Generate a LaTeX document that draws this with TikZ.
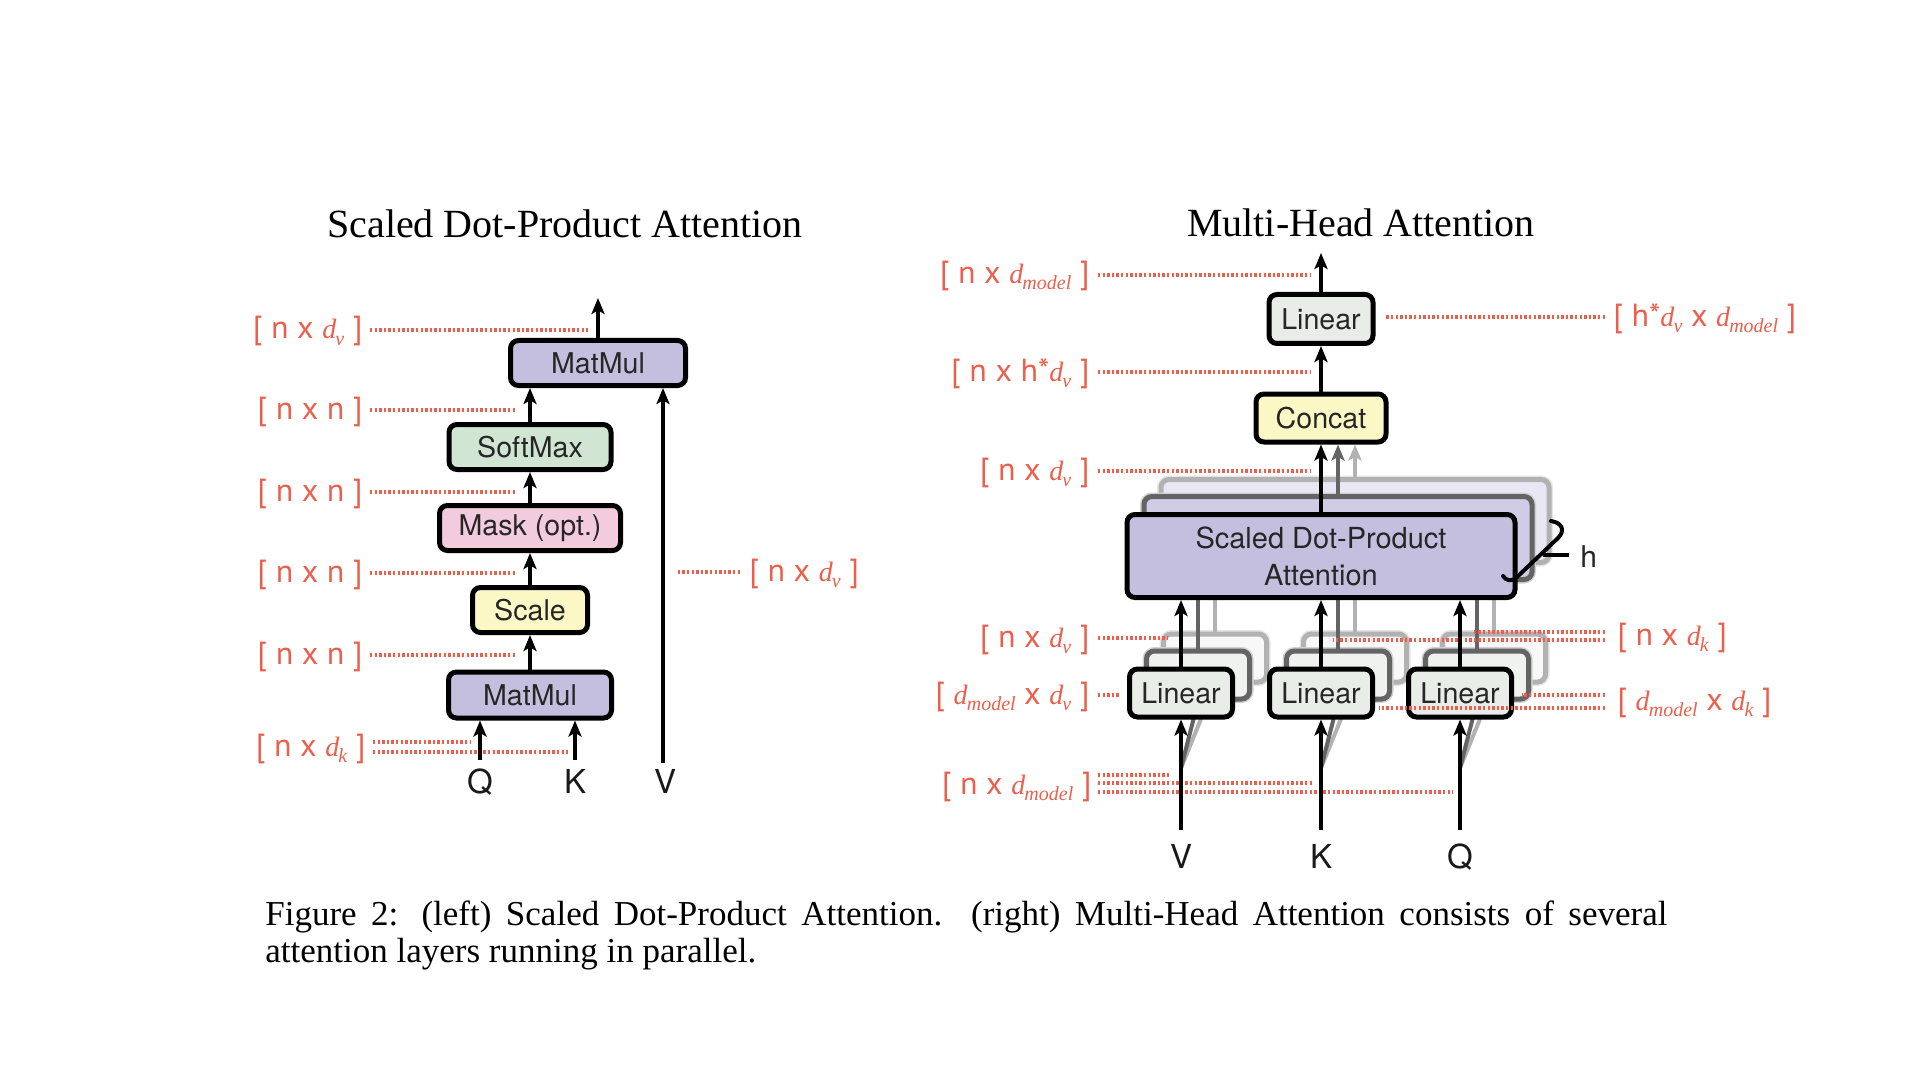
\documentclass[tikz,border=0pt]{standalone}
\usepackage{fontspec}
\setmainfont{Liberation Serif}
\newfontfamily\helv{TeX Gyre Heros}
\newfontfamily\ptsans{PT Sans}
\usetikzlibrary{arrows.meta}
\definecolor{lblc}{RGB}{234,96,76}
\definecolor{lav}{RGB}{196,191,222}
\definecolor{lavB}{RGB}{208,204,229}
\definecolor{lavC}{RGB}{233,231,243}
\definecolor{grn}{RGB}{208,230,211}
\definecolor{pnk}{RGB}{242,204,222}
\definecolor{ylw}{RGB}{251,248,198}
\definecolor{linf}{RGB}{232,237,232}
\definecolor{linB}{RGB}{240,242,240}
\definecolor{linC}{RGB}{247,248,247}
\definecolor{gD}{RGB}{100,100,100}
\definecolor{gL}{RGB}{178,178,178}
\newcommand\dd[1]{{\fontsize{14pt}{16pt}\selectfont\rmfamily\itshape d}\kern-0.4pt\raisebox{-3pt}{\fontsize{10pt}{12pt}\selectfont\rmfamily\itshape #1}}
\begin{document}
\begin{tikzpicture}[x=0.5pt,y=-0.5pt,
  box/.style={draw=black, line width=2.5pt, rounded corners=4pt, inner sep=0pt, text=black!85, font=\helv\fontsize{14.3pt}{18.5pt}\selectfont},
  copyB/.style={box, draw=gD, preaction={draw=black!18, line width=4pt}},
  copyC/.style={box, draw=gL, preaction={draw=black!10, line width=4pt}},
  arr/.style={line width=2pt, -{Stealth[length=8pt,width=6.5pt,inset=1.8pt]}},
  garrD/.style={arr, draw=gD, color=gD},
  garrL/.style={arr, draw=gL, color=gL},
  gline/.style={line width=2pt},
  dotl/.style={draw=lblc, line width=1.6pt, dash pattern=on 1.2pt off 1.1pt},
  lbl/.style={font=\ptsans\fontsize{16pt}{19pt}\selectfont, text=lblc, inner sep=0pt, text height=13.5pt, text depth=4.5pt},
  lblE/.style={lbl, anchor=east},
  lblW/.style={lbl, anchor=west},
  inlbl/.style={font=\helv\fontsize{16.5pt}{19pt}\selectfont, inner sep=0pt, anchor=base, text=black!90},
  ttl/.style={font=\fontsize{20pt}{24pt}\selectfont, anchor=base, inner sep=0pt}
]
\useasboundingbox[fill=white] (0,0) rectangle (1920,1080);

% ---------------- titles
\node[ttl] (t1) at (565,238) {Scaled Dot-Product Attention};
\node[ttl] (t2) at (1361,237) {Multi-Head Attention};

% ---------------- left: scaled dot-product attention
\node[box, fill=lav, minimum width=87.5pt, minimum height=22.5pt] (mm2) at (598,363) {MatMul};
\node[box, fill=grn, minimum width=81pt, minimum height=22.5pt] (sm) at (530,447) {SoftMax};
\node[box, fill=pnk, minimum width=90.5pt, minimum height=22.5pt] (mask) at (530,528) {Mask (opt.)};
\node[box, fill=ylw, minimum width=57.5pt, minimum height=22.5pt] (scale) at (530,610) {Scale};
\node[box, fill=lav, minimum width=81.5pt, minimum height=23pt] (mm1) at (530,695) {MatMul};

\coordinate (outL) at (598,298);
\coordinate (qin) at (480,760);
\coordinate (kin) at (575,760);
\coordinate (vinL) at (663,763);
\node[inlbl] (Q) at (480,793) {Q};
\node[inlbl] (K) at (575,793) {K};
\node[inlbl] (V) at (665,793) {V};

% labels left
\node[lblE] (a1) at (363,330) {[ n x \dd{v} ]};
\node[lblE] (a2) at (363,410) {[ n x n ]};
\node[lblE] (a3) at (363,492) {[ n x n ]};
\node[lblE] (a4) at (363,573) {[ n x n ]};
\node[lblE] (a5) at (363,655) {[ n x n ]};
\node[lblE] (a6) at (366,747) {[ n x \dd{k} ]};
\node[lblW] (a7) at (749,572) {[ n x \dd{v} ]};
\coordinate (e1) at (588,330);
\coordinate (e2) at (517,410);
\coordinate (e3) at (517,492);
\coordinate (e4) at (517,573);
\coordinate (e5) at (517,655);
\coordinate (e6) at (470,742);
\coordinate (e6b) at (568,752);
\coordinate (e7) at (677,572);
\draw[dotl] ([xshift=3.5pt]a1.east) -- (e1);
\draw[dotl] ([xshift=3.5pt]a2.east) -- (e2);
\draw[dotl] ([xshift=3.5pt]a3.east) -- (e3);
\draw[dotl] ([xshift=3.5pt]a4.east) -- (e4);
\draw[dotl] ([xshift=3.5pt]a5.east) -- (e5);
\draw[dotl] ([xshift=3.5pt,yshift=2.5pt]a6.east) -- (e6);
\draw[dotl] ([xshift=3.5pt,yshift=-2.5pt]a6.east) -- (e6b);
\draw[dotl] ([xshift=-4.5pt]a7.west) -- (e7);

% arrows left
\draw[arr] (mm2.north) -- (outL);
\draw[arr] (sm.north) -- (sm.north |- mm2.south);
\draw[arr] (mask.north) -- (sm.south);
\draw[arr] (scale.north) -- (mask.south);
\draw[arr] (mm1.north) -- (scale.south);
\draw[arr] (qin) -- (qin |- mm1.south);
\draw[arr] (kin) -- (kin |- mm1.south);
\draw[arr] (vinL) -- (vinL |- mm2.south);

% ---------------- right: multi-head attention
% stacked copies of the attention block
\node[copyC, fill=lavC, minimum width=194pt, minimum height=41.5pt] (sdC) at (1355,521) {};
\node[copyB, fill=lavB, minimum width=194pt, minimum height=41.5pt] (sdB) at (1338,538) {};

% stacked copies of linear layers
\node[copyC, fill=linC, minimum width=51.5pt, minimum height=24pt] (l1C) at (1215,658) {};
\node[copyC, fill=linC, minimum width=51.5pt, minimum height=24pt] (l2C) at (1355,658) {};
\node[copyC, fill=linC, minimum width=51.5pt, minimum height=24pt] (l3C) at (1494,658) {};
\node[copyB, fill=linB, minimum width=51.5pt, minimum height=24pt] (l1B) at (1198,675) {};
\node[copyB, fill=linB, minimum width=51.5pt, minimum height=24pt] (l2B) at (1338,675) {};
\node[copyB, fill=linB, minimum width=51.5pt, minimum height=24pt] (l3B) at (1477,675) {};

% grey links of the copies
\draw[gline, gL] (l1C.north) -- (l1C.north |- sdC.south);
\draw[gline, gL] (l2C.north) -- (l2C.north |- sdC.south);
\draw[gline, gL] (l3C.north) -- (l3C.north |- sdC.south);
\draw[gline, gD] (l1B.north) -- (l1B.north |- sdB.south);
\draw[gline, gD] (l2B.north) -- (l2B.north |- sdB.south);
\draw[gline, gD] (l3B.north) -- (l3B.north |- sdB.south);

\coordinate (vR) at (1181,830);
\coordinate (kR) at (1321,830);
\coordinate (qR) at (1460,830);
\coordinate (vd) at (1181,768);
\coordinate (kd) at (1321,768);
\coordinate (qd) at (1460,768);
\draw[gline, gL] (vd) -- (l1C.south);
\draw[gline, gL] (kd) -- (l2C.south);
\draw[gline, gL] (qd) -- (l3C.south);
\draw[gline, gD] (vd) -- (l1B.south);
\draw[gline, gD] (kd) -- (l2B.south);
\draw[gline, gD] (qd) -- (l3B.south);

% main boxes
\node[box, fill=linf, minimum width=52pt, minimum height=24.5pt] (lin4) at (1321,319) {Linear};
\node[box, fill=ylw, minimum width=65pt, minimum height=24pt] (concat) at (1321,418) {Concat};
\node[box, fill=lav, minimum width=194pt, minimum height=41.5pt, align=center, font=\helv\fontsize{14.5pt}{18.5pt}\selectfont] (sdpa) at (1321,556) {Scaled Dot-Product\\Attention};
\node[box, fill=linf, minimum width=51.5pt, minimum height=24pt] (lin1) at (1181,693) {Linear};
\node[box, fill=linf, minimum width=51.5pt, minimum height=24pt] (lin2) at (1321,693) {Linear};
\node[box, fill=linf, minimum width=51.5pt, minimum height=24pt] (lin3) at (1460,693) {Linear};

\draw[garrL] (sdC.north) -- (sdC.north |- concat.south);
\draw[garrD] (sdB.north) -- (sdB.north |- concat.south);

% input labels
\node[inlbl] (V2) at (1181,868) {V};
\node[inlbl] (K2) at (1321,868) {K};
\node[inlbl] (Q2) at (1460,868) {Q};

% labels right diagram, left side
\node[lblE] (b1) at (1090,275) {[ n x \dd{model} ]};
\node[lblE] (b2) at (1090,372) {[ n x h*\dd{v} ]};
\node[lblE] (b3) at (1090,471) {[ n x \dd{v} ]};
\node[lblE] (b4) at (1090,638) {[ n x \dd{v} ]};
\node[lblE] (b5) at (1090,695) {[ \dd{model} x \dd{v} ]};
\node[lblE] (b6) at (1092,785) {[ n x \dd{model} ]};
\coordinate (f1) at (1311,275);
\coordinate (f2) at (1311,372);
\coordinate (f3) at (1311,471);
\coordinate (f4) at (1168,638);
\coordinate (f5) at (1120,695);
\coordinate (f6a) at (1170,775);
\coordinate (f6b) at (1313,783);
\coordinate (f6c) at (1453,792);
\draw[dotl] ([xshift=4pt]b1.east) -- (f1);
\draw[dotl] ([xshift=4pt]b2.east) -- (f2);
\draw[dotl] ([xshift=4pt]b3.east) -- (f3);
\draw[dotl] ([xshift=4pt]b4.east) -- (f4);
\draw[dotl] ([xshift=4pt]b5.east) -- (f5);
\draw[dotl] ([xshift=3pt,yshift=5pt]b6.east) -- (f6a);
\draw[dotl] ([xshift=3pt,yshift=1pt]b6.east) -- (f6b);
\draw[dotl] ([xshift=3pt,yshift=-3.5pt]b6.east) -- (f6c);

% labels right diagram, right side
\node[lblW] (c1) at (1613,318) {[ h*\dd{v} x \dd{model} ]};
\node[lblW] (c2) at (1617,636) {[ n x \dd{k} ]};
\node[lblW] (c3) at (1617,701) {[ \dd{model} x \dd{k} ]};
\coordinate (g1) at (1385,317);
\coordinate (g2a) at (1474,632);
\coordinate (g2b) at (1333,640);
\coordinate (g3a) at (1522,695);
\coordinate (g3b) at (1379,708);
\draw[dotl] ([xshift=-4pt,yshift=0.5pt]c1.west) -- (g1);
\draw[dotl] ([xshift=-6pt,yshift=2pt]c2.west) -- (g2a);
\draw[dotl] ([xshift=-6pt,yshift=-2pt]c2.west) -- (g2b);
\draw[dotl] ([xshift=-6pt,yshift=3pt]c3.west) -- (g3a);
\draw[dotl] ([xshift=-6pt,yshift=-3.5pt]c3.west) -- (g3b);

% black arrows right
\coordinate (outR) at (1321,253);
\draw[arr] (lin4.north) -- (outR);
\draw[arr] (concat.north) -- (lin4.south);
\draw[arr] (sdpa.north) -- (concat.south);
\draw[arr] (lin1.north) -- (lin1.north |- sdpa.south);
\draw[arr] (lin2.north) -- (lin2.north |- sdpa.south);
\draw[arr] (lin3.north) -- (lin3.north |- sdpa.south);
\draw[arr] (vR) -- (lin1.south);
\draw[arr] (kR) -- (lin2.south);
\draw[arr] (qR) -- (lin3.south);

% h bracket
\draw[line width=2pt, line cap=round] (1551,521) .. controls (1563,523) and (1565,531) .. (1558,538) -- (1517,577) .. controls (1512,582) and (1506,581) .. (1503,576);
\draw[line width=2pt] (1543,555) -- (1569,555);
\node[font=\helv\fontsize{15pt}{18pt}\selectfont, anchor=base west, inner sep=0pt, text=black!85] (hh) at (1580,567) {h};

% ---------------- caption
\node[anchor=base west, inner sep=0pt, font=\fontsize{17.5pt}{18.5pt}\selectfont] (cap1) at (265,925) {\makebox[701pt][s]{Figure 2:  (left) Scaled Dot-Product Attention.  (right) Multi-Head Attention consists of several}};
\node[anchor=base west, inner sep=0pt, font=\fontsize{17.5pt}{18.5pt}\selectfont] (cap2) at (265,962) {attention layers running in parallel.};
\end{tikzpicture}
\end{document}
